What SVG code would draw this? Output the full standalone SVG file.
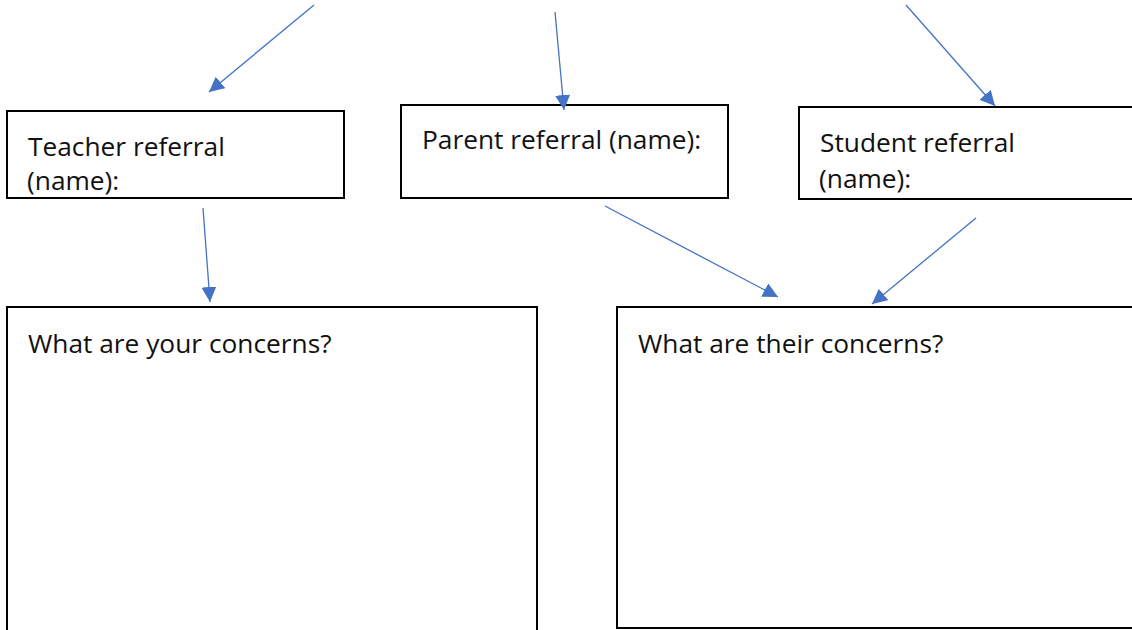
<svg xmlns="http://www.w3.org/2000/svg" width="1132" height="630" viewBox="0 0 1132 630">
<style>
.box{fill:#fff;stroke:#000;stroke-width:2}
.lbl{font-family:"Open Sans","Noto Sans",sans-serif;font-size:26.3px;fill:#111}
.conn{stroke:#4472C4;stroke-width:1.3;fill:none;marker-end:url(#ah)}
</style>
<defs>
<marker id="ah" viewBox="0 0 10 10" refX="10" refY="5" markerWidth="15" markerHeight="15" markerUnits="userSpaceOnUse" orient="auto">
<path d="M0,0 L10,5 L0,10 z" fill="#4472C4"/>
</marker>
</defs>
<rect width="1132" height="630" fill="#fff"/>
<g id="teacher">
<rect class="box" x="7" y="111" width="337" height="87"/>
<text class="lbl" x="28" y="156">Teacher referral</text>
<text class="lbl" x="27" y="190">(name):</text>
</g>
<g id="parent">
<rect class="box" x="401" y="105" width="327" height="93"/>
<text class="lbl" x="422" y="149">Parent referral (name):</text>
</g>
<g id="student">
<rect class="box" x="799" y="107" width="340" height="92"/>
<text class="lbl" x="820" y="152">Student referral</text>
<text class="lbl" x="819" y="188">(name):</text>
</g>
<g id="your-concerns">
<rect class="box" x="7" y="307" width="530" height="340"/>
<text class="lbl" x="28" y="353">What are your concerns?</text>
</g>
<g id="their-concerns">
<rect class="box" x="617" y="307" width="530" height="321"/>
<text class="lbl" x="638" y="353">What are their concerns?</text>
</g>
<g id="connectors">
<line class="conn" x1="314" y1="5" x2="209" y2="92"/>
<line class="conn" x1="555" y1="12" x2="564" y2="110"/>
<line class="conn" x1="906" y1="5" x2="995" y2="106"/>
<line class="conn" x1="203" y1="208" x2="210" y2="302"/>
<line class="conn" x1="605" y1="206" x2="778" y2="297"/>
<line class="conn" x1="976" y1="218" x2="872" y2="304"/>
</g>
</svg>
